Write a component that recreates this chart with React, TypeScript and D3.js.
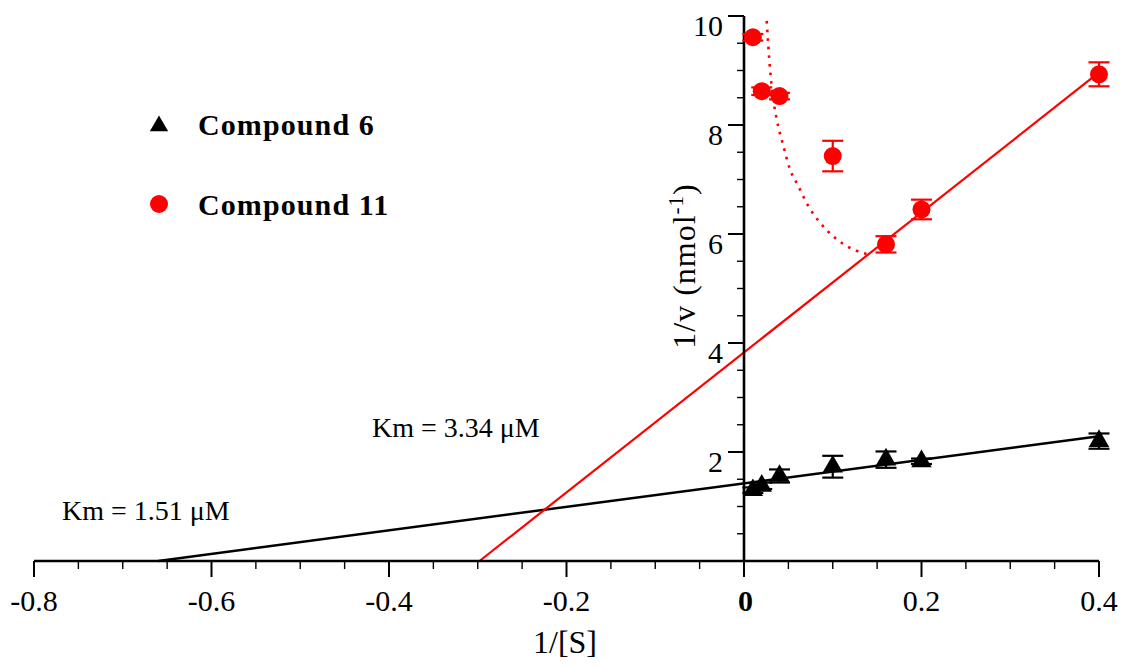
import React from "react";
import * as d3 from "d3";

const xTicks = [-0.8, -0.6, -0.4, -0.2, 0, 0.2, 0.4];
const xTickLabels = ["-0.8", "-0.6", "-0.4", "-0.2", "0", "0.2", "0.4"];
const yTicks = [2, 4, 6, 8, 10];
const yTickLabels = ["2", "4", "6", "8", "10"];

const concentrations = [0.01, 0.02, 0.04, 0.1, 0.16, 0.2, 0.4];
const compound6 = [1.3, 1.38, 1.56, 1.73, 1.86, 1.83, 2.2];
const compound6Err = [0.05, 0.06, 0.12, 0.2, 0.15, 0.05, 0.14];
const compound11 = [9.61, 8.62, 8.53, 7.43, 5.81, 6.45, 8.93];
const compound11Err = [0.06, 0.07, 0.06, 0.28, 0.15, 0.18, 0.22];

// fitted lines: [x, y] ends
const fit6 = [[-0.66, 0], [0.4, 2.29]];
const fit11 = [[-0.298, 0], [0.395, 8.9]];
// dotted curve
const dottedCurve = [
  [0.0256, 9.91], [0.0293, 9.03], [0.033, 8.47], [0.0368, 8.11], [0.0443, 7.62],
  [0.0518, 7.19], [0.0612, 6.88], [0.0725, 6.51], [0.0856, 6.21], [0.1025, 5.93],
  [0.1156, 5.78], [0.1325, 5.66], [0.139, 5.63],
];

const FONT = '"Liberation Serif", "Times New Roman", serif';

export default function App() {
  const W = 1128, H = 668;
  const x = d3.scaleLinear().domain([-0.8, 0.4]).range([34, 1099]);
  const y = d3.scaleLinear().domain([0, 10]).range([561, 16]);
  const x0 = x(0);
  const y0 = y(0);

  const xMinor = d3.range(-16, 9).map((i) => i * 0.05).filter((v) => Math.abs(Math.round(v * 5) - v * 5) > 1e-6);
  const yMinor = d3.range(1, 20).map((i) => i * 0.5).filter((v) => Math.abs(v % 2) > 1e-6);

  const lineGen = d3.line().x((d: any) => x(d[0])).y((d: any) => y(d[1]));
  const curveGen = d3.line().x((d: any) => x(d[0])).y((d: any) => y(d[1])).curve(d3.curveMonotoneX);

  const tri = d3.symbol().type(d3.symbolTriangle).size(180)();
  const triLegend = d3.symbol().type(d3.symbolTriangle).size(145)();

  return (
    <svg width={W} height={H} style={{ display: "block", position: "absolute", left: 0, top: 0 }} fontFamily={FONT}>
      <rect width={W} height={H} fill="#fff" />
      {/* fitted lines */}
      <path d={lineGen(fit6 as any) || ""} stroke="#000" strokeWidth={2.5} fill="none" />
      <path d={lineGen(fit11 as any) || ""} stroke="#ff0000" strokeWidth={2.2} fill="none" />
      <path d={curveGen(dottedCurve as any) || ""} stroke="#ff0000" strokeWidth={2.6} fill="none" strokeDasharray="2.6 6" />

      {/* axes */}
      <line x1={x(-0.8)} x2={x(0.4)} y1={y0} y2={y0} stroke="#000" strokeWidth={2.6} />
      <line x1={x0} x2={x0} y1={y(10)} y2={y0} stroke="#000" strokeWidth={2.6} />
      {xTicks.map((t) => (
        <line key={"xt" + t} x1={x(t)} x2={x(t)} y1={y0} y2={y0 + 16} stroke="#000" strokeWidth={2} />
      ))}
      {xMinor.map((t) => (
        <line key={"xm" + t} x1={x(t)} x2={x(t)} y1={y0} y2={y0 + 8} stroke="#000" strokeWidth={1.4} />
      ))}
      {yTicks.map((t) => (
        <line key={"yt" + t} x1={x0 - 16} x2={x0} y1={y(t)} y2={y(t)} stroke="#000" strokeWidth={2} />
      ))}
      {yMinor.map((t) => (
        <line key={"ym" + t} x1={x0 - 7} x2={x0} y1={y(t)} y2={y(t)} stroke="#000" strokeWidth={1.4} />
      ))}
      {xTicks.map((t, i) => (
        <text key={"xl" + t} x={x(t) + (t === 0 ? 1.5 : 0)} y={611} textAnchor="middle" fontSize={30}
          fontWeight={t === 0 ? "bold" : "normal"}>{xTickLabels[i]}</text>
      ))}
      {yTicks.map((t, i) => (
        <text key={"yl" + t} x={723} y={y(t) + 20} textAnchor="end" fontSize={30}>{yTickLabels[i]}</text>
      ))}

      {/* axis titles */}
      <text x={565} y={653} textAnchor="middle" fontSize={32}>1/[S]</text>
      <text transform="translate(695,266) rotate(-90)" textAnchor="middle" fontSize={32} letterSpacing={1}>
        1/v (nmol<tspan fontSize={21} dy={-12}>-1</tspan><tspan dy={12}>)</tspan>
      </text>

      {/* error bars */}
      {concentrations.map((c, i) => {
        const cx = x(c);
        const t = y(compound6[i] + compound6Err[i]);
        const b = y(compound6[i] - compound6Err[i]);
        return (
          <g key={"e6" + i} stroke="#000" strokeWidth={2.2}>
            <line x1={cx} x2={cx} y1={t} y2={b} />
            <line x1={cx - 10.5} x2={cx + 10.5} y1={t} y2={t} />
            <line x1={cx - 10.5} x2={cx + 10.5} y1={b} y2={b} />
          </g>
        );
      })}
      {concentrations.map((c, i) => {
        const cx = x(c);
        const t = y(compound11[i] + compound11Err[i]);
        const b = y(compound11[i] - compound11Err[i]);
        return (
          <g key={"e11" + i} stroke="#ff0000" strokeWidth={2.2}>
            <line x1={cx} x2={cx} y1={t} y2={b} />
            <line x1={cx - 10.5} x2={cx + 10.5} y1={t} y2={t} />
            <line x1={cx - 10.5} x2={cx + 10.5} y1={b} y2={b} />
          </g>
        );
      })}

      {/* markers */}
      {concentrations.map((c, i) => (
        <path key={"m6" + i} d={tri || ""} transform={`translate(${x(c)},${y(compound6[i])})`} fill="#000" />
      ))}
      {concentrations.map((c, i) => (
        <circle key={"m11" + i} cx={x(c)} cy={y(compound11[i])} r={9} fill="#ff0000" />
      ))}

      {/* legend */}
      <path d={triLegend || ""} transform="translate(159,126)" fill="#000" />
      <text x={198} y={135} fontSize={30} fontWeight="bold" letterSpacing={1.1}>Compound 6</text>
      <circle cx={159} cy={204} r={9} fill="#ff0000" />
      <text x={198} y={215} fontSize={30} fontWeight="bold" letterSpacing={1.1}>Compound 11</text>

      {/* annotations */}
      <text x={372} y={437} fontSize={28}>Km = 3.34 μM</text>
      <text x={62} y={520} fontSize={28}>Km = 1.51 μM</text>
    </svg>
  );
}
